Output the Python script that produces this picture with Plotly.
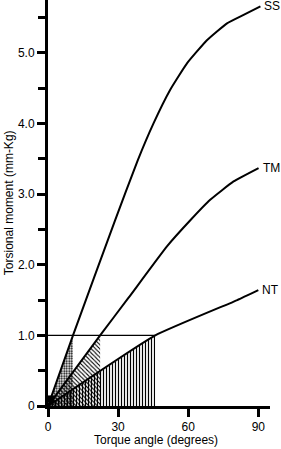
import plotly.graph_objects as go

# Data
ss_angle = [0, 10.7, 28.7, 38.4, 45.1, 52.3, 59.4, 68, 76.6, 83.7, 90.9]
ss_moment = [0, 1.0, 2.63, 3.48, 4.0, 4.48, 4.85, 5.18, 5.42, 5.54, 5.66]

tm_angle = [0, 22.3, 34.4, 50.9, 60.9, 69.4, 79.4, 90.1]
tm_moment = [0, 1.0, 1.53, 2.26, 2.63, 2.92, 3.18, 3.37]

nt_angle = [0, 45.9, 81, 90]
nt_moment = [0, 1.0, 1.5, 1.64]

ref_level = 1.0
cross_angles = {"SS": 10.7, "TM": 22.3, "NT": 45.9}

x_ticks = [0, 30, 60, 90]
y_ticks = [0, 1, 2, 3, 4, 5]
y_ticktext = ["0", "1.0", "2.0", "3.0", "4.0", "5.0"]

FONT = "Liberation Sans, Arial, sans-serif"

fig = go.Figure()

patterns = {"NT": ("|", 3, 0.4), "TM": ("\\", 3, 0.35), "SS": (".", 2.5, 0.45)}
for name in ["NT", "TM", "SS"]:
    xc = cross_angles[name]
    shape, size, sol = patterns[name]
    fig.add_trace(go.Scatter(
        x=[0, xc, xc, 0], y=[0, ref_level, 0, 0],
        mode="lines", line=dict(width=0, color="rgba(0,0,0,0)"),
        fill="toself", fillcolor="rgba(0,0,0,0)",
        fillpattern=dict(shape=shape, size=size, solidity=sol,
                         fgcolor="black", bgcolor="rgba(0,0,0,0)", fillmode="replace"),
        showlegend=False, hoverinfo="skip"))

# horizontal reference line at 1.0
fig.add_trace(go.Scatter(x=[0, cross_angles["NT"]], y=[ref_level, ref_level],
                         mode="lines", line=dict(color="black", width=1.3),
                         showlegend=False))

for name, xs, ys in [("SS", ss_angle, ss_moment), ("TM", tm_angle, tm_moment), ("NT", nt_angle, nt_moment)]:
    fig.add_trace(go.Scatter(x=xs, y=ys, mode="lines",
                             line=dict(color="black", width=2, shape="spline", smoothing=0.4),
                             showlegend=False, cliponaxis=False))
    fig.add_annotation(x=xs[-1], y=ys[-1], text=name, xref="x", yref="y",
                       xanchor="left", yanchor="middle", xshift=2, showarrow=False,
                       font=dict(family=FONT, size=12, color="black"))

# dark blob at the origin where all curves meet
fig.add_trace(go.Scatter(x=[1.2], y=[0.1], mode="markers",
                         marker=dict(symbol="square", size=7, color="black"),
                         showlegend=False, cliponaxis=False))

fig.add_annotation(text="Torsional moment (mm-Kg)", xref="paper", yref="paper",
                   x=-0.175, y=0.5, textangle=-90, showarrow=False,
                   xanchor="center", yanchor="middle",
                   font=dict(family=FONT, size=12, color="black"))
fig.add_annotation(text="Torque angle (degrees)", xref="paper", yref="paper",
                   x=0.487, y=-0.083, showarrow=False, xanchor="center", yanchor="middle",
                   font=dict(family=FONT, size=12, color="black"))

fig.update_xaxes(range=[0, 95], tickvals=x_ticks, showgrid=False, zeroline=False,
                 showline=True, linewidth=3, linecolor="black",
                 ticks="outside", ticklen=8, tickwidth=3, tickcolor="black",
                 tickfont=dict(family=FONT, size=12, color="black"))
fig.update_yaxes(range=[0, 5.75], tickvals=y_ticks, ticktext=y_ticktext,
                 showgrid=False, zeroline=False,
                 showline=True, linewidth=3, linecolor="black",
                 ticks="outside", ticklen=8, tickwidth=3, tickcolor="black",
                 minor=dict(ticks="outside", ticklen=7, tickwidth=3, tickcolor="black",
                            dtick=0.5, tick0=0, showgrid=False),
                 tickfont=dict(family=FONT, size=12, color="black"))

fig.update_layout(width=281, height=449, margin=dict(l=48, r=11, t=0, b=43),
                  plot_bgcolor="white", paper_bgcolor="white")

fig.write_html("out.html")
